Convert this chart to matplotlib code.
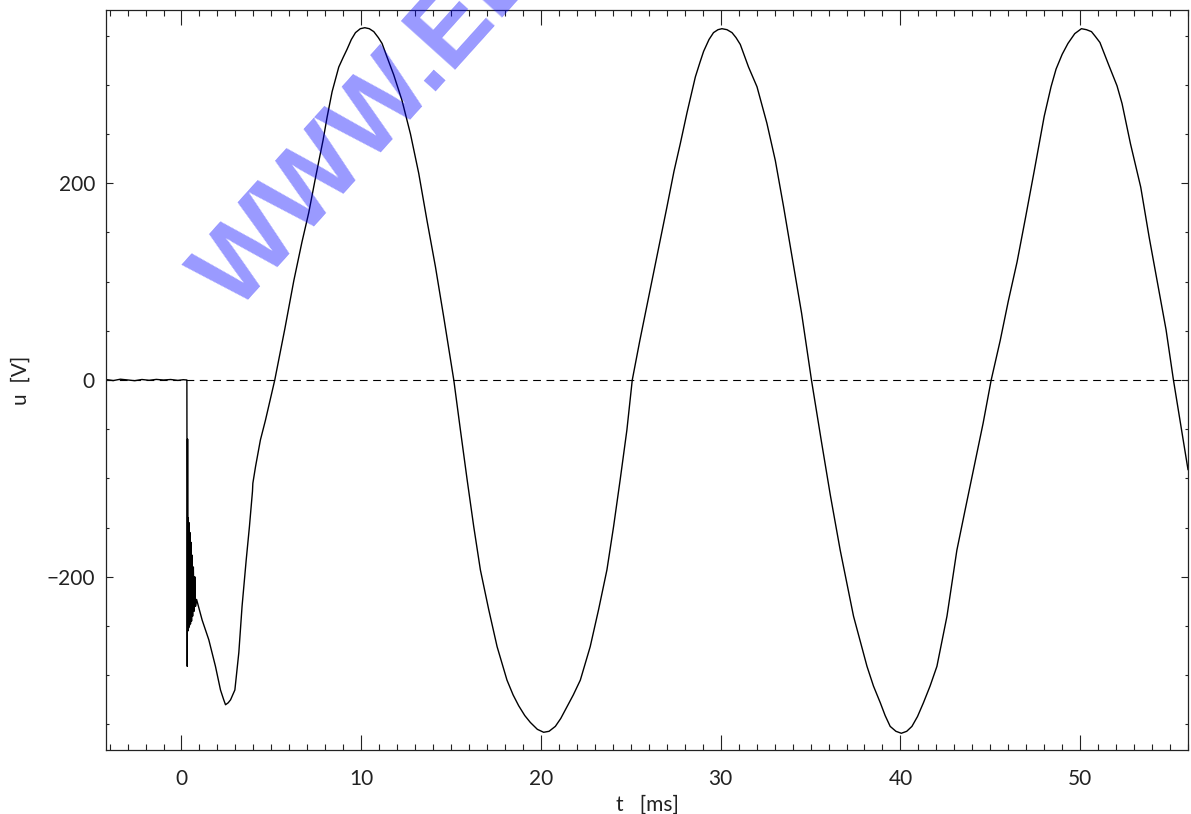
import matplotlib
matplotlib.use("Agg")
import matplotlib.pyplot as plt
from matplotlib.ticker import MultipleLocator

# ---- data (t in ms, u in V) ----
t_pre = [-4.2, -3.8, -3.4, -3.0, -2.6, -2.2, -1.8, -1.4, -1.0, -0.6, -0.2, 0.1, 0.30]
u_pre = [0.5, -0.6, 0.8, 0.0, -0.7, 0.5, -0.3, 0.6, 0.0, 0.5, -0.4, 0.3, 0.0]

t_spike = [0.32, 0.34, 0.36, 0.38, 0.40, 0.42, 0.44, 0.47, 0.50, 0.53, 0.56,
           0.59, 0.62, 0.66, 0.70, 0.74, 0.78, 0.84]
u_spike = [-291, -60, -255, -140, -252, -145, -250, -155, -248, -165, -245,
           -178, -240, -190, -235, -200, -230, -223]

t_main = [1.15, 1.52, 1.89, 2.17, 2.35, 2.45, 2.60, 2.73, 2.97, 3.19, 3.37,
          3.60, 3.78, 3.95, 3.97, 4.12, 4.39, 4.67, 5.19, 5.75, 6.25, 6.70,
          7.08, 7.45, 7.88, 8.10, 8.38, 8.75, 9.00, 9.21, 9.45, 9.68, 9.95,
          10.20, 10.45, 10.70, 10.95, 11.16, 11.44, 11.81, 12.27, 12.74,
          13.20, 13.66, 14.13, 14.59, 15.15, 15.52, 15.89, 16.26, 16.63,
          17.09, 17.56, 18.11, 18.45, 18.76, 19.10, 19.41, 19.80, 20.15,
          20.45, 20.80, 21.10, 21.45, 21.80, 22.19, 22.74, 23.21, 23.67,
          24.04, 24.41, 24.78, 25.08, 25.50, 26.00, 26.50, 27.00, 27.40,
          27.75, 28.13, 28.59, 28.85, 29.05, 29.35, 29.60, 29.85, 30.07,
          30.35, 30.63, 30.85, 31.09, 31.55, 32.02, 32.57, 33.04, 33.50,
          34.00, 34.50, 35.05, 35.60, 36.10, 36.65, 37.39, 38.14, 38.50,
          38.88, 39.15, 39.43, 39.75, 40.05, 40.35, 40.64, 40.95, 41.28,
          41.65, 42.03, 42.59, 43.14, 43.60, 44.10, 44.60, 45.05, 45.55,
          46.00, 46.49, 46.96, 47.44, 48.00, 48.38, 48.66, 49.00, 49.32,
          49.70, 50.07, 50.35, 50.63, 50.85, 51.10, 51.57, 52.05, 52.33,
          52.80, 53.37, 53.84, 54.31, 54.78, 55.19, 56.00]
u_main = [-244, -264, -291, -315, -325, -330, -328, -325, -315, -277, -230,
          -183, -149, -113, -105, -88, -61, -41, 0, 52, 101, 140,
          170, 205, 244, 267, 293, 318, 328, 336, 346, 353, 357,
          358, 357, 354, 348, 342, 328, 310, 284, 250,
          210, 162, 115, 64, 0, -51, -101, -149, -193,
          -233, -271, -305, -320, -331, -341, -348, -355, -358,
          -357, -352, -344, -332, -320, -305, -271, -233, -193,
          -149, -101, -51, 0, 40, 85, 130, 175, 212,
          240, 272, 308, 323, 334, 346, 353, 356, 357,
          356, 353, 348, 341, 318, 298, 261, 223, 176,
          122, 68, 0, -62, -117, -173, -240, -291, -311,
          -328, -341, -352, -357, -359, -357, -352, -342, -328,
          -311, -291, -240, -173, -132, -88, -44, 0, 40,
          80, 120, 165, 212, 268, 298, 316, 331, 342,
          352, 357, 356, 354, 349, 343, 321, 299, 281,
          240, 196, 145, 98, 51, 0, -91]

t_all = t_pre + t_spike + t_main
u_all = u_pre + u_spike + u_main

x_limits = [-4.2, 56.0]
y_limits = [-376, 376]
y_ticks = [-200, 0, 200]
x_ticks = [0, 10, 20, 30, 40, 50]

txt = "#222222"
font = ["Lato", "DejaVu Sans"]

# ---- figure ----
fig = plt.figure(figsize=(11.91, 8.14), dpi=100)
ax = fig.add_axes([106/1191, 1 - 750/814, (1188 - 106)/1191, (750 - 10)/814])

ax.axhline(0, color="black", lw=0.8, dashes=(7, 5), zorder=1)
ax.plot(t_all, u_all, color="black", lw=1.0, zorder=2)

ax.set_xlim(*x_limits)
ax.set_ylim(*y_limits)
ax.set_xticks(x_ticks)
ax.set_yticks(y_ticks)
ax.xaxis.set_minor_locator(MultipleLocator(1))
ax.yaxis.set_minor_locator(MultipleLocator(50))

ax.tick_params(axis="x", which="major", direction="in", length=11, width=0.8,
               top=True, bottom=True, labelsize=15, pad=14, colors=txt)
ax.tick_params(axis="x", which="minor", direction="in", length=4.5, width=0.8,
               top=True, bottom=True, colors=txt)
ax.tick_params(axis="y", which="major", direction="in", length=5, width=0.8,
               left=True, right=True, labelsize=15, pad=8, colors=txt)
ax.tick_params(axis="y", which="minor", direction="in", length=2.5, width=0.8,
               left=True, right=True, colors=txt)
for lab in ax.get_xticklabels() + ax.get_yticklabels():
    lab.set_fontfamily(font)
    lab.set_fontweight("normal")
for s in ax.spines.values():
    s.set_linewidth(0.9)
    s.set_color(txt)

ax.set_xlabel("t   [ms]", fontsize=15, color=txt, labelpad=4, family=font)
ax.set_ylabel("u  [V]", fontsize=15, color=txt, labelpad=11, family=font)

# watermark (semi-transparent, over the trace)
fig.text(236/1191, 1 - 313/814, "WWW.ELEKTROTECHNIK", fontsize=76,
         fontweight="bold", family="Liberation Sans", color="blue", alpha=0.4,
         rotation=48, rotation_mode="anchor", ha="left", va="baseline",
         zorder=10)

fig.savefig("out.png", dpi=100)
